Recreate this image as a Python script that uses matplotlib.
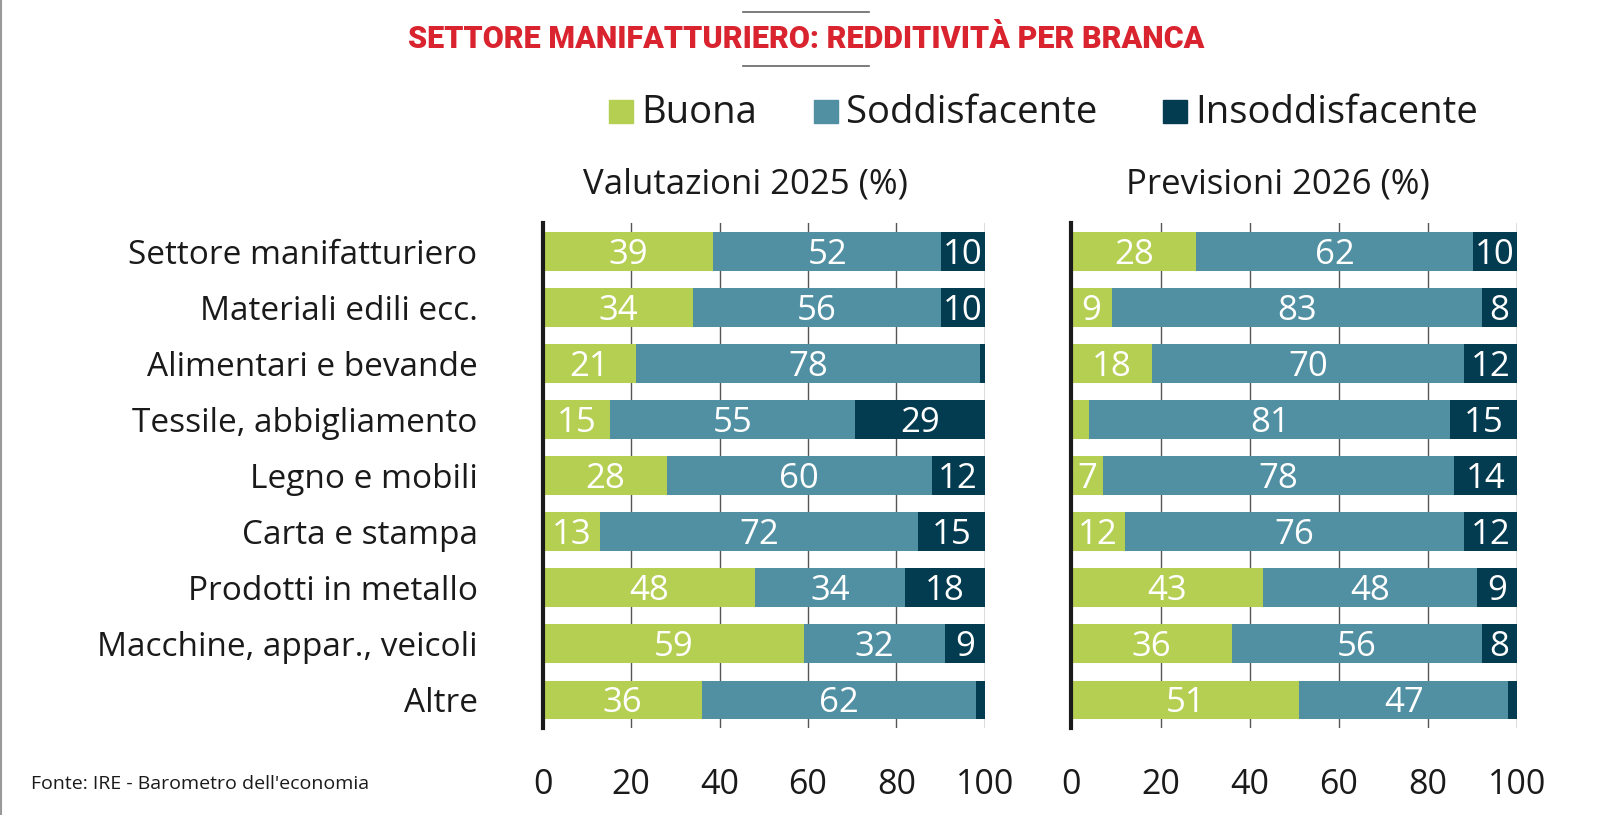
import matplotlib
matplotlib.use("Agg")
import matplotlib.pyplot as plt
from matplotlib.lines import Line2D
from matplotlib.patches import Rectangle
import numpy as np

plt.rcParams['font.family'] = ['Open Sans', 'DejaVu Sans']

categories = ["Settore manifatturiero", "Materiali edili ecc.", "Alimentari e bevande",
              "Tessile, abbigliamento", "Legno e mobili", "Carta e stampa",
              "Prodotti in metallo", "Macchine, appar., veicoli", "Altre"]
series = ["Buona", "Soddisfacente", "Insoddisfacente"]

buona_2025 = [39, 34, 21, 15, 28, 13, 48, 59, 36]
sodd_2025 = [52, 56, 78, 55, 60, 72, 34, 32, 62]
insod_2025 = [10, 10, 1, 29, 12, 15, 18, 9, 2]

buona_2026 = [28, 9, 18, 4, 7, 12, 43, 36, 51]
sodd_2026 = [62, 83, 70, 81, 78, 76, 48, 56, 47]
insod_2026 = [10, 8, 12, 15, 14, 12, 9, 8, 2]

panel_titles = ["Valutazioni 2025 (%)", "Previsioni 2026 (%)"]
xticks = [0, 20, 40, 60, 80, 100]
title = "SETTORE MANIFATTURIERO: REDDITIVITÀ PER BRANCA"
source = "Fonte: IRE - Barometro dell'economia"

colors = ["#b5cf52", "#5190a3", "#033b50"]
label_min = 5

W, H = 1600, 815
S = 1600 / 1568.0
fig = plt.figure(figsize=(16, 8.15), dpi=100)
fig.patch.set_facecolor("white")

def fx(px):
    return px * S / W

def fy(py):
    return 1 - py * S / H

def fh(p):
    return p * S / H

ax_top, ax_bot = 219, 713
axes_px = [(532, 965), (1050, 1487)]
subtitle_x = [731, 1252]
data = [(buona_2025, sodd_2025, insod_2025), (buona_2026, sodd_2026, insod_2026)]

for i, ((x0, x1), d, pt) in enumerate(zip(axes_px, data, panel_titles)):
    ax = fig.add_axes([fx(x0), fy(ax_bot), fx(x1 - x0), fh(ax_bot - ax_top)])
    arr = np.array(d, dtype=float)  # 3 x n
    tot = arr.sum(axis=0)
    norm = arr / tot * 100
    y = np.arange(len(categories))
    left = np.zeros(len(categories))
    for s in range(3):
        ax.barh(y, norm[s], left=left, height=0.68, color=colors[s], zorder=2, linewidth=0)
        for j in range(len(categories)):
            v = arr[s][j]
            if v >= label_min:
                ax.text(left[j] + norm[s][j] / 2, y[j] + 0.06, f"{int(v)}", ha="center", va="center",
                        color="white", fontsize=25, zorder=3)
        left = left + norm[s]
    ax.set_xlim(0, 100)
    ax.set_ylim(len(categories) - 0.5, -0.5)
    ax.set_xticks(xticks)
    ax.set_xticklabels([str(t) for t in xticks])
    ax.tick_params(axis="x", length=0, pad=29, labelsize=24.5, labelcolor="#1a1a1a")
    ax.grid(axis="x", color="#555555", linewidth=1.0, zorder=0)
    ax.set_axisbelow(True)
    for sp in ["top", "right", "bottom"]:
        ax.spines[sp].set_visible(False)
    ax.spines["left"].set_linewidth(3)
    ax.spines["left"].set_color("#1a1a1a")
    ax.spines["left"].set_zorder(4)
    if i == 0:
        ax.set_yticks(y)
        ax.set_yticklabels(categories)
        ax.tick_params(axis="y", length=0, pad=47, labelsize=24, labelcolor="#1a1a1a")
    else:
        ax.set_yticks([])
    fig.text(fx(subtitle_x[i]), fy(181), pt, ha="center", va="center", fontsize=25, color="#1a1a1a")

# title & decorative lines
fig.text(fx(790), fy(38), title, ha="center", va="center", fontsize=22, fontweight="heavy",
         color="#d9232e", family=["Roboto", "DejaVu Sans"])
for yy in (12, 65):
    fig.add_artist(Line2D([fx(728), fx(852)], [fy(yy), fy(yy)], color="#666666", linewidth=1.2))

# legend
leg_sq = [597, 798, 1140]
for s, (xs, name) in enumerate(zip(leg_sq, series)):
    fig.add_artist(Rectangle((fx(xs), fy(121)), fx(23), fh(23), color=colors[s], transform=fig.transFigure))
    fig.text(fx(xs + 31), fy(111), name, ha="left", va="center", fontsize=27.5, color="#1a1a1a")

# source
fig.text(fx(30), fy(768), source, ha="left", va="center", fontsize=14, color="#1a1a1a")

# left border line
fig.add_artist(Line2D([fx(1), fx(1)], [0, 1], color="#999999", linewidth=1.5))

fig.savefig("out.png", dpi=100, facecolor="white")
